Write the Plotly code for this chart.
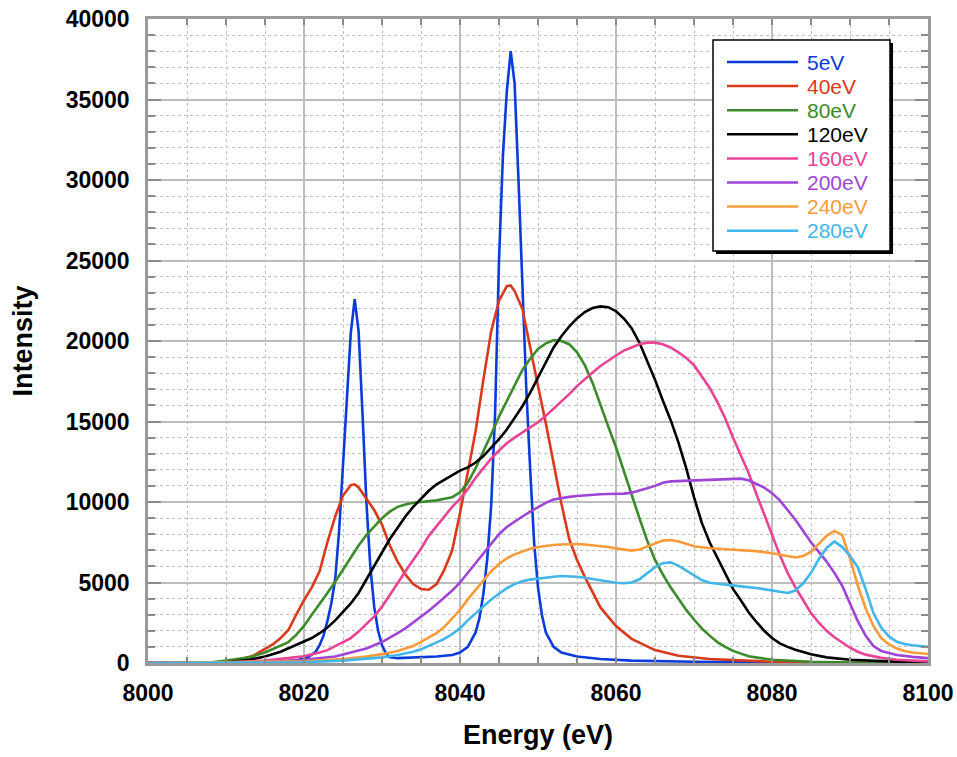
import plotly.graph_objects as go

# ---------------- data ----------------
labels = ["5eV", "40eV", "80eV", "120eV", "160eV", "200eV", "240eV", "280eV"]
colors = ["#0b3bdb", "#d93a1b", "#3b8b2b", "#000000", "#e84493", "#9e45d6", "#f99b3a", "#42b6ea"]

x_5 = [8000, 8010, 8016, 8019, 8020.5, 8021.5, 8022, 8022.5, 8023, 8023.5, 8024, 8024.5, 8025, 8025.5,
       8026, 8026.5, 8027, 8027.5, 8028, 8028.5, 8029, 8029.5, 8030, 8030.5, 8031, 8032, 8034, 8037,
       8039, 8040, 8041, 8042, 8042.5, 8043, 8043.5, 8044, 8044.5, 8045, 8045.5, 8046, 8046.5, 8047,
       8047.5, 8048, 8048.5, 8049, 8049.5, 8050, 8050.5, 8051, 8052, 8053, 8055, 8058, 8062, 8070,
       8080, 8090, 8100]
y_5 = [0, 0, 50, 150, 350, 700, 1100, 1700, 2600, 3700, 5200, 8200, 12300, 16800,
       20500, 22600, 20600, 15500, 10000, 6000, 3500, 2000, 1100, 600, 350, 300, 330, 400,
       500, 650, 1000, 1900, 2800, 4300, 6500, 9800, 15500, 25000, 31500, 35500, 38000, 36000,
       30000, 23000, 17000, 12000, 7500, 4700, 3000, 1900, 1000, 650, 400, 250, 150, 80,
       30, 0, 0]

x_40 = [8000, 8008, 8010, 8012, 8013.5, 8015, 8016, 8017, 8018, 8019, 8020, 8021, 8022, 8023, 8024,
        8025, 8026, 8026.5, 8027, 8028, 8029, 8030, 8031, 8032, 8033, 8034, 8035, 8036, 8037, 8038,
        8039, 8040, 8041, 8042, 8043, 8044, 8045, 8046, 8046.5, 8047, 8048, 8049, 8050, 8051, 8052,
        8053, 8054, 8055, 8056, 8058, 8060, 8062, 8065, 8068, 8072, 8076, 8080, 8090, 8100]
y_40 = [0, 0, 100, 250, 450, 850, 1150, 1550, 2050, 3000, 3900, 4700, 5700, 7500, 9100,
        10400, 11050, 11100, 10900, 10200, 9500, 8600, 7300, 6300, 5500, 4900, 4600, 4550, 4900, 5800,
        7000, 9300, 11800, 14400, 17600, 20600, 22500, 23400, 23450, 23100, 22000, 19500, 17200, 14900, 12300,
        9900, 7700, 6400, 5350, 3450, 2300, 1500, 800, 450, 250, 150, 80, 20, 0]

x_80 = [8000, 8007.5, 8010, 8013, 8015, 8016, 8017, 8018, 8019, 8020, 8021, 8022, 8023, 8024, 8025,
        8026, 8027, 8028, 8029, 8030, 8031, 8032, 8033, 8034, 8035, 8036, 8037, 8038, 8039, 8040,
        8041, 8042, 8043, 8044, 8045, 8046, 8047, 8048, 8049, 8050, 8051, 8052, 8053, 8054, 8055,
        8056, 8057, 8058, 8059, 8060, 8061, 8062, 8063, 8064, 8065, 8066, 8067, 8068, 8069, 8070,
        8071, 8072, 8073, 8074, 8075, 8077, 8080, 8085, 8090, 8100]
y_80 = [0, 0, 150, 350, 650, 850, 1050, 1300, 1750, 2300, 3000, 3650, 4350, 5050, 5800,
        6600, 7300, 7950, 8500, 9000, 9400, 9700, 9850, 9950, 10000, 10050, 10100, 10200, 10300, 10600,
        11200, 12100, 13100, 14200, 15300, 16300, 17300, 18200, 18900, 19500, 19850, 20050, 20000, 19800, 19300,
        18500, 17400, 16000, 14700, 13400, 11900, 10400, 9000, 7600, 6400, 5500, 4700, 4000, 3300, 2700,
        2150, 1700, 1300, 1000, 750, 420, 200, 80, 30, 0]

x_120 = [8000, 8010, 8013, 8015, 8017, 8019, 8020, 8021, 8022, 8023, 8024, 8025, 8026, 8027, 8028,
         8029, 8030, 8031, 8032, 8033, 8034, 8035, 8036, 8037, 8038, 8039, 8040, 8041, 8042, 8043,
         8044, 8045, 8046, 8047, 8048, 8049, 8050, 8051, 8052, 8053, 8054, 8055, 8056, 8057, 8058,
         8059, 8060, 8061, 8062, 8063, 8064, 8065, 8066, 8067, 8068, 8069, 8070, 8071, 8072, 8073,
         8074, 8075, 8076, 8077, 8078, 8079, 8080, 8081, 8082, 8083, 8085, 8087, 8090, 8095, 8100]
y_120 = [0, 50, 200, 400, 700, 1100, 1300, 1550, 1850, 2200, 2650, 3150, 3700, 4350, 5200,
         6000, 6900, 7700, 8400, 9100, 9700, 10200, 10700, 11100, 11400, 11700, 11950, 12150, 12450, 12850,
         13350, 13900, 14500, 15200, 15950, 16800, 17750, 18700, 19600, 20300, 20900, 21400, 21800, 22050, 22150,
         22100, 21850, 21400, 20800, 19900, 18800, 17600, 16300, 15100, 13700, 12100, 10300, 8700, 7500, 6500,
         5500, 4600, 3900, 3150, 2550, 2000, 1550, 1220, 1000, 820, 550, 350, 200, 100, 50]

x_160 = [8000, 8010, 8015, 8018, 8020, 8022, 8023, 8024, 8025, 8026, 8027, 8028, 8029, 8030, 8031,
         8032, 8033, 8034, 8035, 8036, 8037, 8038, 8039, 8040, 8041, 8042, 8043, 8044, 8045, 8046,
         8047, 8048, 8049, 8050, 8051, 8052, 8053, 8054, 8055, 8056, 8057, 8058, 8059, 8060, 8061,
         8062, 8063, 8064, 8065, 8066, 8067, 8068, 8069, 8070, 8071, 8072, 8073, 8074, 8075, 8076,
         8077, 8078, 8079, 8080, 8081, 8082, 8083, 8084, 8085, 8086, 8087, 8088, 8089, 8090, 8091,
         8092, 8094, 8096, 8100]
y_160 = [0, 30, 150, 300, 420, 650, 800, 1050, 1300, 1550, 1950, 2400, 2900, 3500, 4200,
         4950, 5700, 6400, 7100, 7900, 8500, 9100, 9700, 10200, 10800, 11500, 12100, 12700, 13200, 13650,
         14000, 14300, 14600, 14950, 15350, 15800, 16200, 16700, 17200, 17650, 18050, 18450, 18800, 19100, 19400,
         19600, 19800, 19900, 19900, 19800, 19600, 19300, 18950, 18500, 17800, 17100, 16200, 15200, 14000, 12900,
         11800, 10500, 9200, 7900, 6700, 5600, 4700, 3900, 3100, 2500, 2000, 1600, 1250, 950, 700,
         520, 320, 200, 100]

x_200 = [8000, 8015, 8020, 8024, 8026, 8028, 8030, 8031, 8032, 8033, 8034, 8035, 8036, 8037, 8038,
         8039, 8040, 8041, 8042, 8043, 8044, 8045, 8046, 8047, 8048, 8049, 8050, 8051, 8052, 8053,
         8054, 8055, 8056, 8057, 8058, 8059, 8060, 8061, 8062, 8063, 8064, 8065, 8066, 8067, 8068,
         8070, 8072, 8074, 8076, 8077, 8078, 8079, 8080, 8081, 8082, 8083, 8084, 8085, 8086, 8087,
         8088, 8089, 8090, 8091, 8092, 8093, 8094, 8096, 8098, 8100]
y_200 = [0, 50, 200, 400, 650, 900, 1300, 1550, 1850, 2150, 2500, 2850, 3250, 3650, 4050,
         4500, 5000, 5600, 6200, 6800, 7450, 8000, 8450, 8800, 9100, 9400, 9700, 9950, 10150, 10250,
         10320, 10370, 10420, 10450, 10480, 10500, 10500, 10520, 10580, 10700, 10850, 11000, 11200, 11280, 11300,
         11350, 11400, 11450, 11450, 11350, 11150, 10900, 10550, 10100, 9500, 8900, 8200, 7500, 6900, 6300,
         5600, 4800, 3700, 2600, 1700, 1050, 750, 500, 380, 300]

x_240 = [8000, 8020, 8025, 8028, 8030, 8032, 8034, 8035, 8036, 8037, 8038, 8039, 8040, 8041, 8042,
         8043, 8044, 8045, 8046, 8047, 8048, 8049, 8050, 8051, 8052, 8053, 8054, 8055, 8056, 8057,
         8058, 8059, 8060, 8061, 8062, 8063, 8064, 8065, 8066, 8067, 8068, 8069, 8070, 8072, 8074,
         8076, 8078, 8080, 8082, 8083, 8084, 8085, 8086, 8087, 8088, 8089, 8090, 8091, 8092, 8093,
         8094, 8095, 8096, 8097, 8098, 8100]
y_240 = [0, 100, 250, 400, 550, 750, 1050, 1300, 1550, 1850, 2250, 2800, 3300, 3950, 4550,
         5150, 5700, 6150, 6500, 6750, 6950, 7100, 7200, 7280, 7330, 7360, 7390, 7390, 7360, 7320,
         7280, 7200, 7120, 7050, 6980, 7050, 7250, 7450, 7600, 7640, 7550, 7400, 7250, 7130, 7080,
         7030, 6950, 6820, 6620, 6550, 6650, 6900, 7400, 7900, 8200, 7950, 6500, 4800, 3400, 2300,
         1550, 1150, 900, 750, 650, 560]

x_280 = [8000, 8020, 8025, 8030, 8032, 8034, 8035, 8036, 8037, 8038, 8039, 8040, 8041, 8042, 8043,
         8044, 8045, 8046, 8047, 8048, 8049, 8050, 8051, 8052, 8053, 8054, 8055, 8056, 8057, 8058,
         8059, 8060, 8061, 8062, 8063, 8064, 8065, 8066, 8067, 8068, 8069, 8070, 8071, 8072, 8074,
         8076, 8078, 8080, 8081, 8082, 8083, 8084, 8085, 8086, 8087, 8088, 8089, 8090, 8091, 8092,
         8093, 8094, 8095, 8096, 8097, 8098, 8100]
y_280 = [0, 50, 150, 350, 500, 700, 850, 1050, 1250, 1500, 1800, 2150, 2650, 3100, 3500,
         3950, 4300, 4650, 4900, 5080, 5180, 5250, 5300, 5360, 5400, 5400, 5360, 5300, 5220, 5140,
         5060, 4980, 4950, 5000, 5200, 5550, 5950, 6200, 6250, 6050, 5750, 5420, 5150, 4980, 4850,
         4760, 4660, 4500, 4400, 4350, 4500, 4950, 5600, 6450, 7150, 7550, 7200, 6650, 5950, 4600,
         3100, 2200, 1650, 1320, 1180, 1100, 1000]

series_x = [x_5, x_40, x_80, x_120, x_160, x_200, x_240, x_280]
series_y = [y_5, y_40, y_80, y_120, y_160, y_200, y_240, y_280]

x_ticks = [8000, 8020, 8040, 8060, 8080, 8100]
y_ticks = [0, 5000, 10000, 15000, 20000, 25000, 30000, 35000, 40000]

# ---------------- figure ----------------
W, H = 957, 757
L, R, T, B = 148, 29, 19, 94
FONT = "Liberation Sans, Arial, Helvetica, sans-serif"

fig = go.Figure()
for xs, ys, lab, col in zip(series_x, series_y, labels, colors):
    fig.add_trace(go.Scatter(x=xs, y=ys, mode="lines", name=lab,
                             line=dict(color=col, width=2.6), showlegend=False))

axis_common = dict(
    showline=True, linecolor="#9a9a9a", linewidth=2.5, mirror="allticks",
    ticks="inside", tickcolor="#8a8a8a", tickwidth=1.5,
    showgrid=True, gridcolor="#bdbdbd", gridwidth=1.5,
    zeroline=False, automargin=False,
    tickfont=dict(family=FONT, size=23, color="#000", weight="bold"),
)

fig.update_xaxes(
    **axis_common, range=[8000, 8100], tickvals=x_ticks, ticklen=6,
    tickformat="d", ticklabelstandoff=8,
    minor=dict(dtick=5, ticks="inside", ticklen=6, tickcolor="#8a8a8a",
               showgrid=True, gridcolor="#c0c0c0", griddash="dot", gridwidth=1),
    title=dict(text="Energy (eV)", font=dict(family=FONT, size=27, color="#000", weight="bold"),
               standoff=20),
)
fig.update_yaxes(
    **axis_common, range=[0, 40000], tickvals=y_ticks, ticklen=13,
    tickformat="d", ticklabelstandoff=11,
    minor=dict(dtick=1000, ticks="inside", ticklen=7, tickcolor="#8a8a8a",
               showgrid=True, gridcolor="#c0c0c0", griddash="dot", gridwidth=1),
    title=dict(text="Intensity", font=dict(family=FONT, size=27, color="#000", weight="bold"),
               standoff=26),
)

# ---------------- legend (drawn box with shadow) ----------------
pw, ph = W - L - R, H - T - B
def px(xp):
    return (xp - L) / pw
def py(yp):
    return (H - B - yp) / ph

box_l, box_t, box_r, box_b = 713, 40, 890, 251
shapes = [
    dict(type="rect", xref="paper", yref="paper", x0=px(box_l + 3), x1=px(box_r + 3),
         y0=py(box_b + 3), y1=py(box_t + 3), fillcolor="#000", line=dict(width=0), layer="above"),
    dict(type="rect", xref="paper", yref="paper", x0=px(box_l), x1=px(box_r),
         y0=py(box_b), y1=py(box_t), fillcolor="#fff", line=dict(color="#000", width=1.5), layer="above"),
]
annotations = []
for i, (lab, col) in enumerate(zip(labels, colors)):
    yy = 62 + 24.1 * i
    shapes.append(dict(type="line", xref="paper", yref="paper", x0=px(727), x1=px(798),
                       y0=py(yy), y1=py(yy), line=dict(color=col, width=2.5), layer="above"))
    annotations.append(dict(xref="paper", yref="paper", x=px(805), y=py(yy), text=lab,
                            showarrow=False, xanchor="left", yanchor="middle",
                            font=dict(family=FONT, size=21, color=col)))

fig.update_layout(
    width=W, height=H, margin=dict(l=L, r=R, t=T, b=B),
    paper_bgcolor="#fff", plot_bgcolor="#fff",
    shapes=shapes, annotations=annotations, showlegend=False,
)

fig.write_html("out.html")
